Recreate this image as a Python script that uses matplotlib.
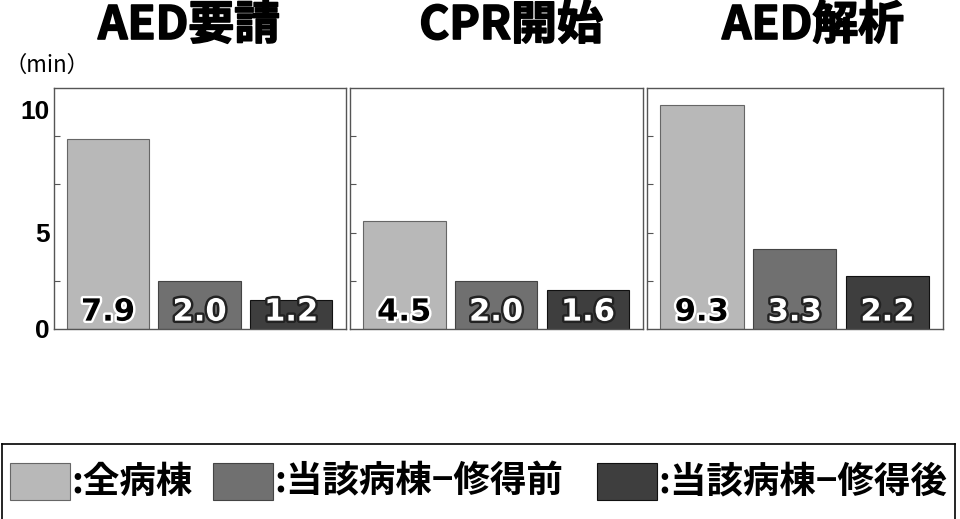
import matplotlib
matplotlib.use("Agg")
import matplotlib.pyplot as plt
import matplotlib.patheffects as pe
from matplotlib.patches import Rectangle

plt.rcParams['font.family'] = ['Noto Sans CJK JP', 'DejaVu Sans']

# time to each step (min)
panels = ['AED要請', 'CPR開始', 'AED解析']
groups = [':全病棟', ':当該病棟−修得前', ':当該病棟−修得後']
all_wards = [7.9, 4.5, 9.3]
ward_before = [2.0, 2.0, 3.3]
ward_after = [1.2, 1.6, 2.2]

colors = ['#b8b8b8', '#707070', '#3e3e3e']
edges = ['#666666', '#444444', '#111111']
label_fg = ['black', 'white', 'white']
label_stroke = ['white', '#222222', '#222222']

W, H = 960, 519
fig = plt.figure(figsize=(W / 100, H / 100), dpi=100)

# axes boxes in pixel units: left, width; title centre x
boxes = [(54, 292), (350, 293), (647, 296)]
title_x = [189, 511, 813]
top, bottom = 88, 329

for i, (name, (left, width)) in enumerate(zip(panels, boxes)):
    ax = fig.add_axes([left / W, 1 - bottom / H, width / W, (bottom - top) / H])
    vals = [all_wards[i], ward_before[i], ward_after[i]]
    for j, v in enumerate(vals):
        ax.bar(j, v, width=0.9, color=colors[j], edgecolor=edges[j], linewidth=0.8)
        t = ax.text(j, 0.7, f'{v:.1f}', ha='center', va='center',
                    fontsize=22, fontweight='bold', family='DejaVu Sans',
                    color=label_fg[j])
        t.set_path_effects([pe.Stroke(linewidth=3.5, foreground=label_stroke[j]),
                            pe.Normal()])
    ax.set_xlim(-0.59, 2.6)
    ax.set_ylim(0, 10)
    ax.set_xticks([])
    ax.set_yticks([2, 4, 6, 8], minor=True)
    ax.tick_params(axis='y', which='minor', direction='in', length=4,
                   width=0.8, color='#555555')
    if i == 0:
        ax.set_yticks([0, 4, 9.1])
        ax.set_yticklabels(['0', '5', '10'], fontsize=19, fontweight='bold',
                           family='Liberation Sans')
        ax.tick_params(axis='y', which='major', length=0, pad=3)
    else:
        ax.set_yticks([])
    for s in ax.spines.values():
        s.set_color('#555555')
        s.set_linewidth(1.0)
    tt = fig.text(title_x[i] / W, 1 - 26 / H, name, ha='center', va='center',
                  fontsize=33, fontweight='bold')
    tt.set_path_effects([pe.withStroke(linewidth=1.2, foreground='black')])

fig.text(5 / W, 1 - 65 / H, '（min）', fontsize=16, va='center', ha='left')

# legend strip along the bottom
lg = fig.add_axes([2 / W, 0, 953 / W, 75 / H])
lg.set_xlim(2, 955)
lg.set_ylim(0, 75)
lg.set_xticks([])
lg.set_yticks([])
for s in lg.spines.values():
    s.set_color('black')
    s.set_linewidth(1.2)
lg.spines['bottom'].set_visible(False)

patch_x = [10, 213, 597]
for j, (g, px) in enumerate(zip(groups, patch_x)):
    lg.add_patch(Rectangle((px, 19), 60, 37, facecolor=colors[j],
                           edgecolor=edges[j], linewidth=0.8))
    lg.text(px + 61, 37, g, ha='left', va='center', fontsize=26.3,
            fontweight='bold')

fig.savefig('out.png', dpi=100)
